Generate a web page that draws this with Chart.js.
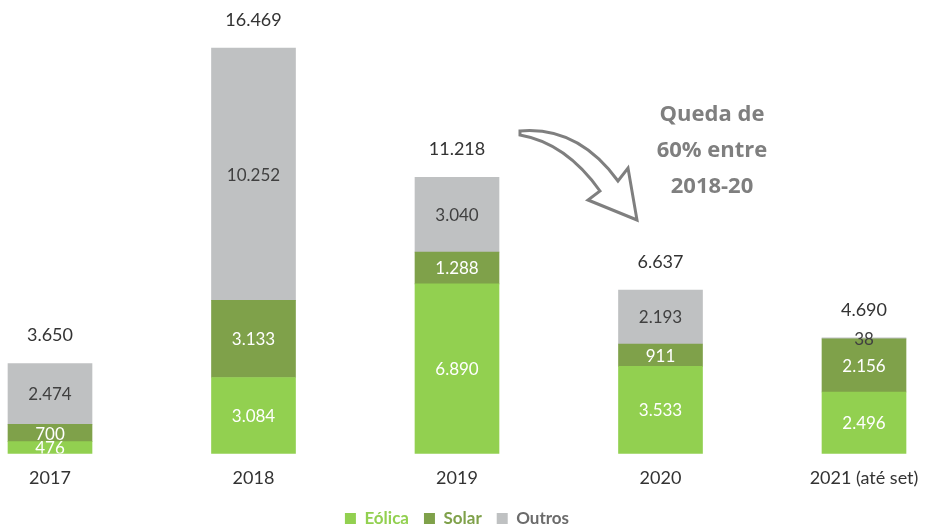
<!DOCTYPE html>
<html>
<head>
<meta charset="utf-8">
<script src="https://cdn.jsdelivr.net/npm/chart.js@4"></script>
<style>
  html, body { margin: 0; padding: 0; background: #ffffff; }
  #wrap { width: 929px; height: 526px; }
</style>
</head>
<body>
<div id="wrap"><canvas id="chart" width="929" height="526"></canvas></div>
<script>
// data
const categories = ["2017", "2018", "2019", "2020", "2021 (até set)"];
const eolica = [476, 3084, 6890, 3533, 2496];
const solar = [700, 3133, 1288, 911, 2156];
const outros = [2474, 10252, 3040, 2193, 38];
const seriesNames = ["Eólica", "Solar", "Outros"];
const annotationLines = ["Queda de", "60% entre", "2018-20"];

const totals = categories.map((_, i) => eolica[i] + solar[i] + outros[i]);

// colours
const green = "#92d050";
const olive = "#7fa14a";
const grey = "#bfc1c2";
const legendTextColors = [green, olive, "#6b6b6b"];

// 12.345 style thousands
function fmt(v) {
  return String(v).replace(/\B(?=(\d{3})+(?!\d))/g, ".");
}

// values inside segments and totals above bars
const valueLabels = {
  id: "valueLabels",
  afterDatasetsDraw(chart) {
    const ctx = chart.ctx;
    const area = chart.chartArea;
    ctx.save();
    ctx.textAlign = "center";
    ctx.textBaseline = "middle";
    ctx.font = "17px Lato";

    ctx.save();
    ctx.beginPath();
    ctx.rect(0, 0, chart.width, area.bottom);
    ctx.clip();
    chart.data.datasets.forEach((ds, i) => {
      const meta = chart.getDatasetMeta(i);
      meta.data.forEach((bar, j) => {
        ctx.fillStyle = ds.labelColor;
        ctx.fillText(fmt(ds.data[j]), bar.x, (bar.y + bar.base) / 2 + 1);
      });
    });
    ctx.restore();

    ctx.font = "18px Lato";
    ctx.fillStyle = "#333333";
    const top = chart.getDatasetMeta(chart.data.datasets.length - 1);
    top.data.forEach((bar, j) => {
      ctx.fillText(fmt(totals[j]), bar.x, bar.y - 28);
    });
    ctx.restore();
  },
};

// curved arrow + note between 2019 and 2020
const dropNote = {
  id: "dropNote",
  afterDraw(chart) {
    const ctx = chart.ctx;
    ctx.save();
    ctx.beginPath();
    ctx.moveTo(520, 131);
    ctx.quadraticCurveTo(578, 126, 618, 181);
    ctx.lineTo(628, 168);
    ctx.lineTo(637, 220);
    ctx.lineTo(588, 200);
    ctx.lineTo(600, 191);
    ctx.quadraticCurveTo(566, 143, 520, 135);
    ctx.closePath();
    ctx.fillStyle = "#ffffff";
    ctx.fill();
    ctx.lineWidth = 3;
    ctx.lineJoin = "miter";
    ctx.strokeStyle = "#7f7f7f";
    ctx.stroke();

    ctx.font = "bold 22px 'Open Sans'";
    ctx.fillStyle = "#7f7f7f";
    ctx.textAlign = "center";
    ctx.textBaseline = "middle";
    annotationLines.forEach((line, i) => {
      ctx.fillText(line, 712, 115 + i * 36);
    });
    ctx.restore();
  },
};

const ctx = document.getElementById("chart").getContext("2d");

new Chart(ctx, {
  type: "bar",
  data: {
    labels: categories,
    datasets: [
      { label: seriesNames[0], data: eolica, backgroundColor: green, labelColor: "#ffffff" },
      { label: seriesNames[1], data: solar, backgroundColor: olive, labelColor: "#ffffff" },
      { label: seriesNames[2], data: outros, backgroundColor: grey, labelColor: "#404040" },
    ],
  },
  options: {
    responsive: false,
    animation: false,
    devicePixelRatio: 1,
    layout: {
      padding: { left: 50, right: 65, top: 48, bottom: -11 },
    },
    datasets: {
      bar: {
        clip: false,
        barThickness: 84,
        borderWidth: 0,
      },
    },
    scales: {
      x: {
        stacked: true,
        offset: false,
        grid: { display: false },
        border: { display: false },
        ticks: {
          color: "#333333",
          font: { size: 18, family: "Lato" },
          padding: 6,
          maxRotation: 0,
          autoSkip: false,
        },
      },
      y: {
        stacked: true,
        display: false,
        min: 0,
        max: Math.max(...totals),
      },
    },
    plugins: {
      legend: {
        position: "bottom",
        align: "center",
        labels: {
          boxWidth: 11,
          boxHeight: 11,
          padding: 15,
          font: { size: 17, weight: "bold", family: "Lato" },
          generateLabels(chart) {
            const items = Chart.defaults.plugins.legend.labels.generateLabels(chart);
            items.forEach((it, i) => {
              it.fontColor = legendTextColors[i];
              it.lineWidth = 0;
            });
            return items;
          },
        },
      },
      tooltip: { enabled: false },
    },
  },
  plugins: [valueLabels, dropNote],
});
</script>
</body>
</html>
